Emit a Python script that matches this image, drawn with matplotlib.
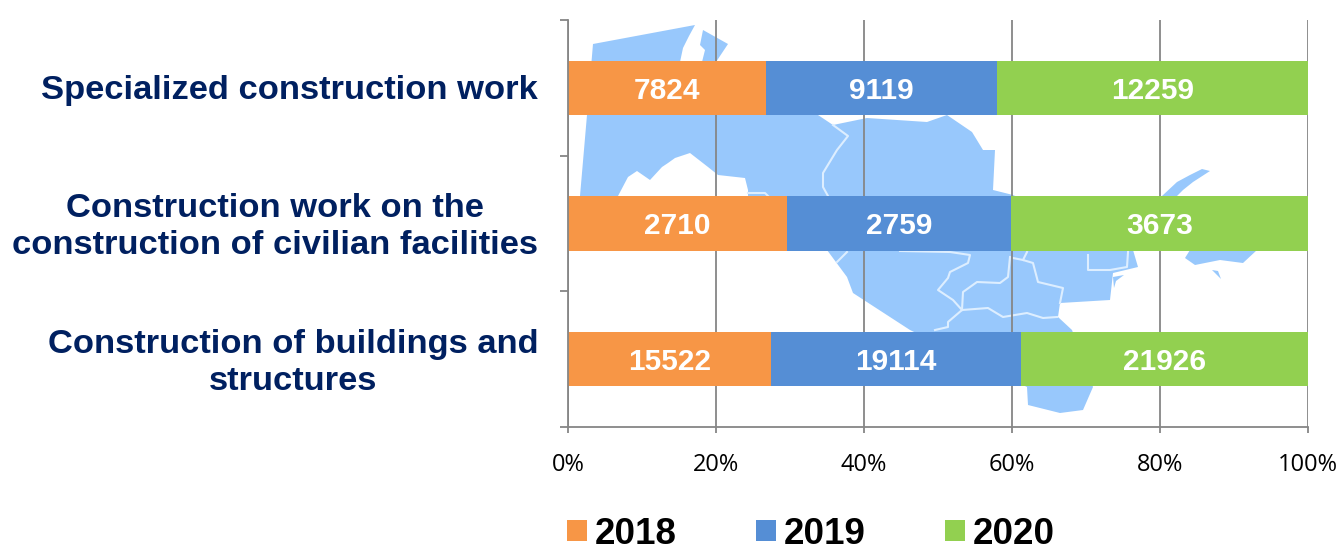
import numpy as np
import matplotlib
matplotlib.use("Agg")
import matplotlib.pyplot as plt
from matplotlib.patches import Polygon
from matplotlib.transforms import Affine2D, ScaledTranslation

plt.rcParams['font.family'] = ['Liberation Sans', 'DejaVu Sans']

# Data, bottom row first
categories = ["Construction of buildings and\nstructures",
              "Construction work on the\nconstruction of civilian facilities",
              "Specialized construction work"]
years = ["2018", "2019", "2020"]
values_2018 = [15522, 2710, 7824]
values_2019 = [19114, 2759, 9119]
values_2020 = [21926, 3673, 12259]
colors = ["#F79646", "#558ED5", "#92D050"]

# Background map, traced in image pixels (decoration only)
map_main = [(593, 44), (695, 25), (689, 36), (683, 48), (680, 62), (692, 100), (702, 62),
            (705, 50), (700, 45), (703, 30), (728, 44), (716, 62), (770, 95), (818, 115),
            (833, 125), (867, 118), (927, 122), (947, 115), (972, 132), (983, 150),
            (995, 150), (993, 190), (1013, 195), (1133, 250), (1138, 267), (1113, 273),
            (1110, 300), (1060, 303), (1058, 317), (1072, 330), (1093, 387), (1083, 410),
            (1060, 413), (1028, 405), (1027, 387), (910, 330), (853, 293), (847, 277),
            (827, 250), (748, 196), (748, 190), (745, 178), (718, 175), (708, 167),
            (690, 153), (675, 158), (668, 163), (662, 167), (650, 180), (637, 171),
            (628, 177), (618, 196), (580, 196), (587, 115)]
map_isle = [(1162, 196), (1177, 182), (1190, 175), (1202, 169), (1210, 171), (1193, 182),
            (1183, 190), (1177, 196), (1257, 250), (1243, 263), (1220, 260), (1195, 265),
            (1185, 258), (1190, 250)]
map_islet = [(1212, 270), (1218, 271), (1221, 279)]
map_cape = [(1113, 277), (1124, 275), (1116, 281), (1114, 288)]
map_borders = [
    [(833, 125), (848, 136), (837, 150), (823, 173), (823, 187), (828, 196)],
    [(748, 193), (765, 193), (768, 196)],
    [(847, 252), (837, 262)],
    [(900, 251), (950, 252), (970, 255), (968, 263), (950, 272), (948, 278), (938, 290),
     (953, 300), (962, 310)],
    [(962, 310), (963, 292), (977, 282), (1000, 283), (1008, 277), (1010, 257)],
    [(1027, 252), (1023, 260), (1033, 263), (1038, 282), (1063, 288), (1060, 303)],
    [(1013, 258), (1023, 260)],
    [(962, 310), (988, 308), (1003, 317), (1027, 313), (1043, 318), (1057, 317)],
    [(962, 310), (948, 322), (948, 327), (935, 330)],
    [(1088, 255), (1088, 270), (1110, 270), (1127, 267), (1128, 252)],
]

fig = plt.figure(figsize=(13.41, 5.48), dpi=100)
ax = fig.add_axes([568 / 1341, 1 - 427 / 548, 740 / 1341, 407 / 548])

# Map behind the grid
px = Affine2D().scale(1 / 1341, -1 / 548).translate(0, 1) + fig.transFigure
for shape in [map_main, map_isle, map_islet, map_cape]:
    ax.add_patch(Polygon(shape, closed=True, transform=px, facecolor="#98C8FC",
                         edgecolor="none", zorder=0, clip_on=False))
for border in map_borders:
    xs, ys = zip(*border)
    ax.plot(xs, ys, color="#DDEEFF", lw=1.5, transform=px, zorder=0.2, clip_on=False)

# Stacked bars, in percent of the row total
rows = np.array([values_2018, values_2019, values_2020], dtype=float)
shares = rows / rows.sum(axis=0) * 100
y = np.arange(len(categories))
left = np.zeros(len(categories))
for i, year in enumerate(years):
    bars = ax.barh(y, shares[i], left=left, height=0.4, color=colors[i], label=year, zorder=2)
    texts = ax.bar_label(bars, labels=[str(int(v)) for v in rows[i]], label_type="center",
                         color="white", fontsize=21.5, fontweight="bold", zorder=3)
    for t in texts:
        t.set_verticalalignment("center_baseline")
    left += shares[i]

ax.set_xlim(0, 100)
ax.set_ylim(-0.5, 2.5)
ax.set_xticks(np.arange(0, 101, 20))
ax.set_xticklabels([f"{v}%" for v in range(0, 101, 20)], fontsize=17, family="Open Sans")
ax.set_yticks([-0.5, 0.5, 1.5, 2.5])
ax.set_yticklabels([])
ax.set_yticks(y, minor=True)
ax.set_yticklabels(categories, minor=True, fontsize=24.8, fontweight="bold",
                   color="#002060", multialignment="center", linespacing=1.25)
ax.tick_params(axis="y", which="minor", length=0, pad=21.5)
ax.tick_params(axis="y", which="major", length=6, width=1.3, color="#868686")
ax.tick_params(axis="x", length=4.5, width=1.3, color="#868686", pad=14)

# nudge the category labels up a little
for label, lift in zip(ax.get_yticklabels(minor=True), [3, 3, 1]):
    label.set_transform(label.get_transform() + ScaledTranslation(0, lift / 100, fig.dpi_scale_trans))

ax.set_axisbelow(True)
ax.grid(True, axis="x", color="#868686", lw=1.3)
ax.patch.set_alpha(0)
for side in ["top", "right"]:
    ax.spines[side].set_visible(False)
for side in ["left", "bottom"]:
    ax.spines[side].set_color("#868686")
    ax.spines[side].set_linewidth(1.3)

fig.legend(loc="center left", bbox_to_anchor=(567 / 1341, 1 - 534 / 548), ncol=3, frameon=False,
           prop={"size": 26.5, "weight": "bold"}, borderpad=0, borderaxespad=0,
           handlelength=0.54, handleheight=0.54, handletextpad=0.22, columnspacing=2.15)

fig.savefig("out.png", dpi=100)
